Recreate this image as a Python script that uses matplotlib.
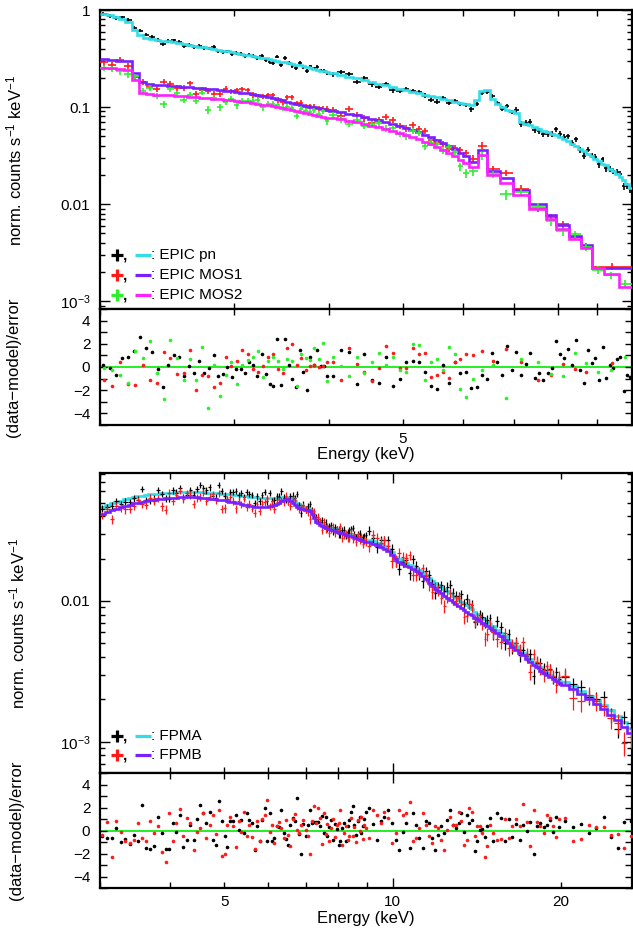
import numpy as np
import matplotlib
matplotlib.use("Agg")
import matplotlib.pyplot as plt
from matplotlib.lines import Line2D
from matplotlib.ticker import FixedLocator, NullFormatter, NullLocator, LogLocator, MultipleLocator

plt.rcParams['font.family'] = ['Liberation Sans', 'DejaVu Sans']
plt.rcParams['mathtext.fontset'] = 'custom'
plt.rcParams['mathtext.rm'] = 'Liberation Sans'
plt.rcParams['mathtext.it'] = 'Liberation Sans:italic'
plt.rcParams['mathtext.bf'] = 'Liberation Sans:bold'

W, H = 633, 933

# ---------------- channel grouping: (start keV, width keV, channels) ----------------
PN_GROUPS = [(2.0, 0.04, 50), (4.0, 0.10, 60)]
MOS_GROUPS = [(2.0, 0.05, 40), (4.0, 0.10, 21)]
MOS1_WIDE_EDGES = [6.27, 6.44, 6.70, 6.97, 7.33, 7.71, 7.95, 8.26, 8.57, 8.85, 10.0]
MOS2_WIDE_EDGES = [6.27, 6.44, 6.70, 6.97, 7.33, 7.71, 7.95, 8.26, 8.57, 8.85, 9.18, 9.61, 10.0]
FPM_GROUPS = [(3.0, 0.06, 100), (9.0, 0.15, 40), (15.0, 0.25, 20), (20.0, 0.70, 10)]

# ---------------- XMM-Newton EPIC ----------------
PN_MODEL = [
    0.91, 0.88, 0.85, 0.81, 0.76, 0.62, 0.55, 0.52, 0.50, 0.49,
    0.48, 0.475, 0.465, 0.455, 0.445, 0.437, 0.428, 0.420, 0.412, 0.404,
    0.396, 0.388, 0.381, 0.374, 0.367, 0.360, 0.353, 0.347, 0.341, 0.335,
    0.329, 0.323, 0.317, 0.311, 0.305, 0.299, 0.293, 0.288, 0.283, 0.278,
    0.273, 0.268, 0.263, 0.258, 0.253, 0.248, 0.243, 0.238, 0.234, 0.230,
    0.225, 0.215, 0.206, 0.197, 0.189, 0.181, 0.174, 0.167, 0.161, 0.155,
    0.150, 0.144, 0.139, 0.134, 0.130, 0.126, 0.122, 0.118, 0.114, 0.110,
    0.107, 0.104, 0.118, 0.145, 0.150, 0.122, 0.108, 0.100, 0.094, 0.090,
    0.086, 0.070, 0.067, 0.065, 0.062, 0.059, 0.057, 0.055, 0.053, 0.051,
    0.049, 0.047, 0.045, 0.042, 0.040, 0.037, 0.035, 0.033, 0.031, 0.029,
    0.028, 0.026, 0.025, 0.023, 0.022, 0.0205, 0.0192, 0.0178, 0.0163, 0.0148]
PN_RESID = [
    0.2, -0.1, -0.7, 0.8, 0.9, 1.4, 2.6, 1.6, 1.3, -0.15,
    -1.7, 0.15, 1.0, 0.9, -0.75, 0.05, -0.5, 0.5, -0.5, -0.1,
    1.0, -0.8, -0.6, 0.0, -0.9, -0.15, -0.15, -0.55, 0.45, 0.2,
    -0.8, 1.15, -0.6, -1.45, -1.6, 2.4, -1.55, 2.4, 0.2, -1.05,
    -1.75, 1.5, -0.45, -2.0, 0.85, 0.15, 1.5, 0.05, 0.1, -0.75,
    -0.75, 1.5, 1.3, -1.5, 1.1, -1.1, -1.4, 0.85, -1.6, -1.0,
    0.45, 0.5, 0.4, -0.4, -1.6, -1.9, 0.15, -1.4, 0.4, -0.5,
    -0.45, -1.85, -1.75, -0.65, -1.0, 1.2, 0.4, -0.7, 1.85, -0.25,
    1.3, -0.7, 0.25, 1.2, -0.95, -0.5, -1.1, -0.5, -0.1, 2.2,
    1.15, 0.8, 1.55, 0.15, 2.35, -0.3, -1.4, 1.5, 0.35, 0.8,
    -1.15, 1.7, -0.95, 0.15, -0.1, 0.65, 0.9, -2.05, -0.7, -0.85]
PN_ERR_LEVELS, PN_ERR_COUNTS = [0.045, 0.05, 0.07], [50, 30, 30]

MOS1_MODEL = [
    0.310, 0.305, 0.300, 0.295, 0.225, 0.180, 0.173, 0.170, 0.168, 0.166,
    0.164, 0.162, 0.160, 0.158, 0.156, 0.154, 0.152, 0.150, 0.147, 0.145,
    0.143, 0.140, 0.138, 0.135, 0.132, 0.129, 0.126, 0.123, 0.120, 0.117,
    0.114, 0.111, 0.108, 0.105, 0.103, 0.101, 0.099, 0.097, 0.095, 0.093,
    0.091, 0.088, 0.085, 0.082, 0.079, 0.076, 0.073, 0.070, 0.067, 0.064,
    0.061, 0.058, 0.055, 0.052, 0.049, 0.046, 0.043, 0.040, 0.037, 0.034, 0.031,
    0.027, 0.036, 0.022, 0.0185, 0.0140, 0.0100, 0.0078, 0.0061, 0.0047, 0.0038, 0.0022]
MOS1_RESID = [
    -1.1, -1.6, 0.45, -1.5, -1.55, 0.15, -1.15, -1.4, 1.3, 0.75,
    -0.6, -0.5, 1.5, -2.0, -0.7, -0.8, -1.7, -1.4, 0.85, 0.05,
    0.55, 1.5, 1.15, -0.2, -0.4, 0.05, 0.85, 1.15, -0.15, -0.5,
    1.65, 2.0, 0.15, 0.8, -0.25, 0.1, 0.15, 0.0, 0.05, 0.45,
    0.45, -1.15, 1.6, 0.25, -0.45, -1.2, -0.05, 1.8, 1.2, -0.1,
    -0.1, 1.6, 1.15, 1.25, -0.85, -0.7, -0.4, -0.95, 0.4, 0.7, 1.15,
    1.05, 1.35, 0.5, 1.55, 0.4, -1.1, -0.7, 0.3, -0.2, -0.45, 0.35]
MOS1_ERR_LEVELS, MOS1_ERR_COUNTS = [0.065, 0.075, 0.085], [40, 21, 11]

MOS2_MODEL = [
    0.255, 0.250, 0.245, 0.240, 0.190, 0.140, 0.136, 0.134, 0.133, 0.132,
    0.131, 0.130, 0.128, 0.127, 0.125, 0.124, 0.122, 0.121, 0.119, 0.118,
    0.116, 0.114, 0.112, 0.110, 0.108, 0.106, 0.104, 0.102, 0.100, 0.098,
    0.096, 0.094, 0.092, 0.089, 0.087, 0.085, 0.083, 0.081, 0.079, 0.078,
    0.077, 0.0746, 0.072, 0.0695, 0.067, 0.0644, 0.0619, 0.0593, 0.0568, 0.0542,
    0.0517, 0.0492, 0.0466, 0.0441, 0.0415, 0.0390, 0.0364, 0.0339, 0.0314, 0.0288, 0.0263,
    0.024, 0.032, 0.020, 0.0165, 0.0125, 0.0090, 0.0070, 0.0056, 0.0044, 0.0035,
    0.0022, 0.0019, 0.0014]
MOS2_RESID = [
    -0.1, -0.3, -0.7, -1.35, 1.35, 0.8, 2.25, -0.5, -2.8, 2.3,
    0.8, -1.15, 0.7, -1.15, 1.75, -3.55, 0.15, -2.5, -0.7, 0.45,
    -1.45, 0.15, 0.6, 0.85, 1.35, -0.9, 0.5, 0.85, 0.55, -0.15,
    0.65, 0.55, -1.6, 1.15, 0.8, 0.6, 1.6, 0.65, 2.05, -1.2,
    0.85, 0.05, -0.8, 0.85, -0.5, 0.45, 1.2, 0.15, 0.9, -0.3,
    -0.4, 1.95, 1.9, -1.15, 0.45, 0.7, -0.25, 1.75, 1.15, -1.9, -2.6,
    -1.0, -0.3, 0.2, -2.65, 0.7, 0.45, -0.6, -0.75, 1.2, 0.35, -0.45, -0.3, 0.9]
MOS2_ERR_LEVELS, MOS2_ERR_COUNTS = [0.07, 0.08, 0.09], [40, 21, 13]

# ---------------- NuSTAR FPMA / FPMB ----------------
FPMA_MODEL = [
    0.0465, 0.0479, 0.0492, 0.0504, 0.0516, 0.0527, 0.0537,
    0.0546, 0.0553, 0.0559, 0.0565, 0.0570, 0.0574, 0.0578, 0.0581, 0.0584, 0.0586,
    0.0588, 0.0590, 0.0591, 0.0592, 0.0593, 0.0593, 0.0593, 0.0592, 0.0591, 0.0590,
    0.0588, 0.0586, 0.0584, 0.0582, 0.0580, 0.0578,
    0.0576, 0.0573, 0.0570, 0.0567, 0.0564, 0.0561, 0.0558, 0.0555, 0.0552, 0.0549,
    0.0547, 0.0545, 0.0543, 0.0541, 0.0540, 0.0539, 0.0538,
    0.0538, 0.0538, 0.0539, 0.0540, 0.0542, 0.0545, 0.0548, 0.0550, 0.0548, 0.0540,
    0.0528, 0.0512, 0.0498, 0.0486, 0.0476, 0.0468, 0.0462,
    0.0456, 0.0446, 0.0425, 0.0398, 0.0378, 0.0366, 0.0358, 0.0352, 0.0347, 0.0342,
    0.0338, 0.0334, 0.0331, 0.0328, 0.0325, 0.0322,
    0.0319, 0.0316, 0.0313, 0.0310, 0.0307, 0.0304, 0.0301, 0.0298, 0.0295, 0.0292,
    0.0289, 0.0286, 0.0283, 0.0280, 0.0277, 0.0274, 0.0271,
    0.0270, 0.0265, 0.0259, 0.0252, 0.0244, 0.0235, 0.0222, 0.0206, 0.0197, 0.0191,
    0.0186, 0.0181, 0.0176, 0.0171, 0.0165, 0.0159, 0.0152, 0.0145, 0.0139, 0.0134,
    0.0129, 0.0125, 0.0121, 0.0117, 0.0113, 0.0109, 0.0106, 0.0102, 0.0099, 0.0096,
    0.0093, 0.0090, 0.0087, 0.0084, 0.0081, 0.0079, 0.0076, 0.0074, 0.0071, 0.0069,
    0.0066, 0.0062, 0.0059, 0.0056, 0.0053, 0.0050, 0.0048, 0.0045, 0.0043, 0.0041,
    0.0039, 0.0037, 0.0035, 0.0034, 0.0032, 0.0031, 0.0030, 0.0029, 0.0028, 0.0027,
    0.00265, 0.00247, 0.00230, 0.00213, 0.00197, 0.00182, 0.00167, 0.00152, 0.00138, 0.00125]
FPMA_RESID = [
    -0.5, -0.65, -0.65, 0.2, -1.0, -0.7, -1.15, -0.4, -0.95, 2.25,
    -1.55, -1.6, -1.35, 1.15, -0.2, -1.6, -1.65,
    0.65, -0.1, 1.35, -1.4, -0.8, 0.5, -0.8, 1.0, 2.25, 1.5, 0.65, 1.65, -0.85, -1.25, 2.6, 0.8,
    -0.5, -1.4, 0.8, 0.8, 1.35, 0.05, 0.95, -0.25, 1.5, 0.95, 0.65, -1.7, 0.35, -0.95, 0.95, 1.95, -0.95,
    1.5, -0.95, -0.65, 0.4, 0.3, 1.8, -0.25, -0.7, -1.25, 0.5, 1.1, 0.8, 2.8, -0.3, -2.0, 0.6, -0.5,
    0.5, 1.8, 0.65, 0.7, 0.7, 0.75, 0.4, 1.25, -0.2, 1.2, -0.5, 0.3, 0.9, -0.8, 0.6, 0.1,
    -1.25, -0.95, 0.2, 0.65, -0.95, 0.35, 0.95, 1.65, 2.1, 0.5, -0.4, 0.8, 1.2, -0.2, 0.4, 1.0, 1.6,
    2.0, 0.6, -0.8, 0.8, 1.2, 1.8, 0.65,
    -0.8, -1.7, -0.1, 0.65, -1.55, 1.5, 0.5, -0.65, -1.55, 0.8, 0.65, -0.65, -1.7,
    -0.4, 0.35, -0.25, 0.95, 1.8, 0.5, 0.2, 0.65, 1.5, -0.1,
    1.35, 0.65, 0.95, -1.8, -0.95, 0.05, 0.1, -0.6, 0.4, 1.1,
    -0.95, 1.55, 1.05, -0.95, 1.0, -0.6, 0.55, -0.85, 0.5, -0.05,
    0.7, -2.05, 0.35, 0.65, 0.3, 0.5, 0.95, -0.1, 1.15, 0.3,
    0.8, 0.3, 0.55, -0.25, 0.2, 1.2, -0.6, -1.55, 0.7, 0.8]
FPMA_ERR_LEVELS, FPMA_ERR_COUNTS = [0.055, 0.085, 0.10, 0.12], [100, 40, 20, 10]

FPMB_MODEL = [
    0.0415, 0.0428, 0.0440, 0.0452, 0.0463, 0.0473, 0.0483,
    0.0492, 0.0499, 0.0505, 0.0511, 0.0517, 0.0521, 0.0526, 0.0530, 0.0534, 0.0537,
    0.0540, 0.0542, 0.0544, 0.0545, 0.0545, 0.0545, 0.0544, 0.0543, 0.0541, 0.0539,
    0.0536, 0.0533, 0.0530, 0.0527, 0.0524, 0.0521,
    0.0517, 0.0512, 0.0507, 0.0502, 0.0497, 0.0492, 0.0487, 0.0482, 0.0478, 0.0474,
    0.0470, 0.0467, 0.0465, 0.0464, 0.0464, 0.0465, 0.0467,
    0.0470, 0.0475, 0.0482, 0.0490, 0.0500, 0.0512, 0.0522, 0.0528, 0.0526, 0.0515,
    0.0498, 0.0480, 0.0466, 0.0456, 0.0450, 0.0446, 0.0443,
    0.0440, 0.0432, 0.0412, 0.0385, 0.0366, 0.0355, 0.0347, 0.0341, 0.0336, 0.0331,
    0.0327, 0.0323, 0.0320, 0.0317, 0.0314, 0.0311,
    0.0308, 0.0305, 0.0302, 0.0299, 0.0296, 0.0293, 0.0290, 0.0287, 0.0284, 0.0281,
    0.0278, 0.0275, 0.0272, 0.0269, 0.0266, 0.0263, 0.0260,
    0.0260, 0.0255, 0.0249, 0.0242, 0.0234, 0.0226, 0.0213, 0.0197, 0.0189, 0.0183,
    0.0178, 0.0173, 0.0168, 0.0163, 0.0157, 0.0150, 0.0143, 0.0135, 0.0128, 0.0122,
    0.0117, 0.0113, 0.0109, 0.0105, 0.0102, 0.0098, 0.0095, 0.0092, 0.0089, 0.0086,
    0.0084, 0.0081, 0.0079, 0.0076, 0.0074, 0.0072, 0.0070, 0.0068, 0.0066, 0.0064,
    0.0062, 0.0059, 0.0056, 0.0053, 0.0050, 0.0047, 0.0045, 0.0043, 0.0041, 0.0039,
    0.0037, 0.0035, 0.0034, 0.0032, 0.0031, 0.0030, 0.0029, 0.0028, 0.0027, 0.0026,
    0.00255, 0.00237, 0.00219, 0.00202, 0.00186, 0.00171, 0.00156, 0.00142, 0.00128, 0.00116]
FPMB_RESID = [
    -0.4, 0.7, -2.3, 0.8, -0.15, -0.95, -1.1, -0.8, 0.65, -0.65,
    -0.9, 0.8, -0.25, 0.35, -1.9, -2.75, 1.55,
    -0.95, 0.65, 1.85, -0.5, 1.05, 0.65, -1.7, -0.1, 0.2, 1.5, -0.65, 0.5, 1.35, -0.3, 1.8, -2.2,
    -2.0, 0.5, 1.2, 0.35, -1.45, 0.8, -0.1, 1.65, -0.5, 0.5, -0.6, -1.6, 0.8, -0.95, 1.0, 1.35, 2.65,
    -0.1, 0.5, -1.1, 0.35, 0.7, 0.2, -0.65, 0.95, -0.4, -1.35, 1.0, 1.4, 0.05, -0.2, 0.5, 0.9, 0.05,
    -0.5, -2.0, 0.8, 2.1, 0.65, 2.0, 1.05, -1.15, 1.5, -0.3, 0.6, -0.9, 0.2, 1.0, -0.6, 0.45,
    0.65, 1.8, -1.25, -0.25, 0.35, -0.8, -0.5, 1.05, -0.45, 0.3, -1.0, 0.9, 0.0, 1.2, -0.7, 0.5, 0.2,
    -0.65, 1.8, 1.35, 0.65, 1.65, 1.05, -1.1,
    -0.25, 1.8, 1.35, 1.5, 2.5, -0.95, -0.65, 0.2, 1.5, 0.5, -0.5, -1.1, 0.35,
    0.2, -0.8, -1.7, 0.05, 1.2, 0.5, 0.5, 1.65, 0.8, -1.25,
    -0.8, 2.0, 1.65, -0.5, 0.35, 0.35, -0.25, -2.3, -1.35, 0.5,
    -0.25, -0.8, -0.75, 1.0, -0.65, 0.35, 1.0, 0.35, 2.3, 0.7,
    -1.35, 1.75, 0.7, 0.35, -0.25, 1.35, 1.05, 0.35, -0.6, 1.0,
    1.05, -0.95, -0.7, 0.45, 0.3, 0.3, -0.4, -0.3, -1.55, -0.5]
FPMB_ERR_LEVELS, FPMB_ERR_COUNTS = [0.06, 0.09, 0.11, 0.15], [100, 40, 20, 10]

# ---------------- colours ----------------
C_PN, C_PN_MOD = '#000000', '#33dde8'
C_M1, C_M1_MOD = '#ff1a1a', '#7a1fff'
C_M2, C_M2_MOD = '#2bf02b', '#ff1fff'
C_ZERO = '#11ee11'


def channel_edges(groups, extra=()):
    edges = [groups[0][0]]
    for start, width, n in groups:
        edges.extend(start + width * np.arange(1, n + 1))
    edges.extend(extra)
    return np.array(edges)


def prepare(name, edges, model, resid, levels, counts):
    model = np.asarray(model, float)
    resid = np.asarray(resid, float)
    frac = np.repeat(levels, counts)
    n = len(edges) - 1
    if not (len(model) == len(resid) == len(frac) == n):
        raise ValueError(f"{name}: bins={n} model={len(model)} resid={len(resid)} err={len(frac)}")
    centre = 0.5 * (edges[:-1] + edges[1:])
    half = 0.5 * np.diff(edges)
    sigma = model * frac
    data = model + resid * sigma
    return dict(edges=edges, centre=centre, half=half, model=model,
                resid=resid, data=data, sigma=sigma)


pn = prepare('pn', channel_edges(PN_GROUPS), PN_MODEL, PN_RESID, PN_ERR_LEVELS, PN_ERR_COUNTS)
m1 = prepare('mos1', channel_edges(MOS_GROUPS, MOS1_WIDE_EDGES), MOS1_MODEL, MOS1_RESID,
             MOS1_ERR_LEVELS, MOS1_ERR_COUNTS)
m2 = prepare('mos2', channel_edges(MOS_GROUPS, MOS2_WIDE_EDGES), MOS2_MODEL, MOS2_RESID,
             MOS2_ERR_LEVELS, MOS2_ERR_COUNTS)
fa = prepare('fpma', channel_edges(FPM_GROUPS), FPMA_MODEL, FPMA_RESID, FPMA_ERR_LEVELS, FPMA_ERR_COUNTS)
fb = prepare('fpmb', channel_edges(FPM_GROUPS), FPMB_MODEL, FPMB_RESID, FPMB_ERR_LEVELS, FPMB_ERR_COUNTS)

fig = plt.figure(figsize=(W / 100, H / 100), dpi=100)


def px_axes(left, top, right, bottom):
    return fig.add_axes([left / W, 1 - bottom / H, (right - left) / W, (bottom - top) / H])


ax_xs = px_axes(100, 10, 632, 309)
ax_xr = px_axes(100, 309, 632, 425)
ax_ns = px_axes(100, 473, 632, 773)
ax_nr = px_axes(100, 773, 632, 888)


def draw_data(ax, s, colour, elw, z):
    ax.errorbar(s['centre'], s['data'], xerr=s['half'], yerr=s['sigma'], fmt='none',
                ecolor=colour, elinewidth=elw, capsize=0, zorder=z)


def draw_model(ax, s, colour, lw, z):
    ax.stairs(s['model'], s['edges'], baseline=None, color=colour, lw=lw, zorder=z)


def draw_resid(ax, s, colour, z):
    ax.plot(s['centre'], s['resid'], 'o', ms=2.6, color=colour, mew=0, zorder=z)


# --- EPIC spectra ---
draw_data(ax_xs, pn, C_PN, 1.2, 2)
draw_model(ax_xs, pn, C_PN_MOD, 1.9, 3)
draw_data(ax_xs, m1, C_M1, 1.2, 4)
draw_model(ax_xs, m1, C_M1_MOD, 1.9, 5)
draw_data(ax_xs, m2, C_M2, 1.2, 6)
draw_model(ax_xs, m2, C_M2_MOD, 1.9, 7)

ax_xr.axhline(0, color=C_ZERO, lw=1.3, zorder=1)
draw_resid(ax_xr, pn, C_PN, 3)
draw_resid(ax_xr, m1, C_M1, 4)
draw_resid(ax_xr, m2, C_M2, 5)

# --- NuSTAR spectra ---
draw_model(ax_ns, fa, C_PN_MOD, 1.9, 2)
draw_data(ax_ns, fa, C_PN, 0.9, 3)
draw_data(ax_ns, fb, C_M1, 0.9, 4)
draw_model(ax_ns, fb, C_M1_MOD, 1.9, 5)

ax_nr.axhline(0, color=C_ZERO, lw=1.3, zorder=1)
draw_resid(ax_nr, fa, C_PN, 3)
draw_resid(ax_nr, fb, C_M1, 4)


# ---------------- axes styling ----------------
def base_style(ax):
    ax.tick_params(which='both', direction='in', top=True, right=True, width=1.0,
                   labelsize=11, pad=6, colors='black')
    for sp in ax.spines.values():
        sp.set_linewidth(1.6)


def log_y(ax, lo, hi):
    ax.set_yscale('log')
    ax.set_ylim(lo, hi)
    ticks = [1e-3, 1e-2, 1e-1, 1.0]
    labels = ['$10^{-3}$', '0.01', '0.1', '1']
    ax.yaxis.set_major_locator(FixedLocator(ticks))
    ax.set_yticklabels(labels)
    ax.yaxis.set_minor_locator(LogLocator(base=10.0, subs=np.arange(2, 10), numticks=30))
    ax.yaxis.set_minor_formatter(NullFormatter())
    ax.tick_params(axis='y', which='major', length=7)
    ax.tick_params(axis='y', which='minor', length=3.8)
    ax.tick_params(axis='y', which='both', pad=7)


def resid_y(ax):
    ax.set_ylim(-5, 5)
    ax.set_yticks([-4, -2, 0, 2, 4])
    ax.set_yticklabels(['\u22124', '\u22122', '0', '2', '4'])
    ax.yaxis.set_minor_locator(MultipleLocator(1))
    ax.tick_params(axis='y', which='major', length=5)
    ax.tick_params(axis='y', which='minor', length=5)
    ax.tick_params(axis='y', which='both', pad=7)


for ax in (ax_xs, ax_xr, ax_ns, ax_nr):
    base_style(ax)

# EPIC energy axis: 2-10 keV
for ax in (ax_xs, ax_xr):
    ax.set_xscale('log')
    ax.set_xlim(2.0, 10.0)
    ax.xaxis.set_major_locator(FixedLocator([2, 3, 4, 5, 6, 7, 8, 9, 10]))
    ax.set_xticklabels(['', '', '', '5', '', '', '', '', ''])
    ax.xaxis.set_minor_locator(NullLocator())
    ax.tick_params(axis='x', which='major', length=4.5, pad=5)

# NuSTAR energy axis: 3-27 keV
for ax in (ax_ns, ax_nr):
    ax.set_xscale('log')
    ax.set_xlim(3.0, 26.8)
    ax.xaxis.set_major_locator(FixedLocator([10]))
    ax.set_xticklabels(['10'])
    ax.xaxis.set_minor_locator(FixedLocator([3, 4, 5, 6, 7, 8, 9, 20]))
    ax.set_xticklabels(['', '', '5', '', '', '', '', '20'], minor=True)
    ax.tick_params(axis='x', which='major', length=7, pad=5)
    ax.tick_params(axis='x', which='minor', length=4.5, pad=5)

log_y(ax_xs, 8.3e-4, 1.0)
log_y(ax_ns, 6.0e-4, 0.081)
resid_y(ax_xr)
resid_y(ax_nr)

ax_xs.tick_params(axis='x', which='both', labelbottom=False)
ax_ns.tick_params(axis='x', which='both', labelbottom=False)

# ---------------- axis titles ----------------
YLAB = 'norm. counts s$^{-1}$ keV$^{-1}$'
RLAB = '(data\u2212model)/error'
fig.text(14 / W, 1 - 160 / H, YLAB, rotation=90, ha='center', va='center', fontsize=12)
fig.text(14 / W, 1 - 367 / H, RLAB, rotation=90, ha='center', va='center', fontsize=12)
fig.text(17 / W, 1 - 623 / H, YLAB, rotation=90, ha='center', va='center', fontsize=12)
fig.text(17 / W, 1 - 830 / H, RLAB, rotation=90, ha='center', va='center', fontsize=12)
fig.text(366 / W, 1 - 455 / H, 'Energy (keV)', ha='center', va='center', fontsize=12)
fig.text(366 / W, 1 - 919 / H, 'Energy (keV)', ha='center', va='center', fontsize=12)


# ---------------- key ----------------
def key_row(y_px, dcolour, mcolour, label):
    yf = 1 - y_px / H
    fig.add_artist(Line2D([117 / W], [yf], marker='+', ms=8.5, mew=2.3, color=dcolour,
                          transform=fig.transFigure))
    fig.text(123 / W, 1 - (y_px + 4.5) / H, ',', ha='left', va='baseline', fontsize=11,
             fontweight='bold')
    fig.add_artist(Line2D([135 / W, 151 / W], [yf, yf], lw=2.3, color=mcolour,
                          transform=fig.transFigure, solid_capstyle='butt'))
    fig.text(151 / W, yf, ': ' + label, ha='left', va='center', fontsize=11)


key_row(255, C_PN, C_PN_MOD, 'EPIC pn')
key_row(275, C_M1, C_M1_MOD, 'EPIC MOS1')
key_row(295, C_M2, C_M2_MOD, 'EPIC MOS2')
key_row(736, C_PN, C_PN_MOD, 'FPMA')
key_row(755, C_M1, C_M1_MOD, 'FPMB')

fig.savefig('out.png', dpi=100)
